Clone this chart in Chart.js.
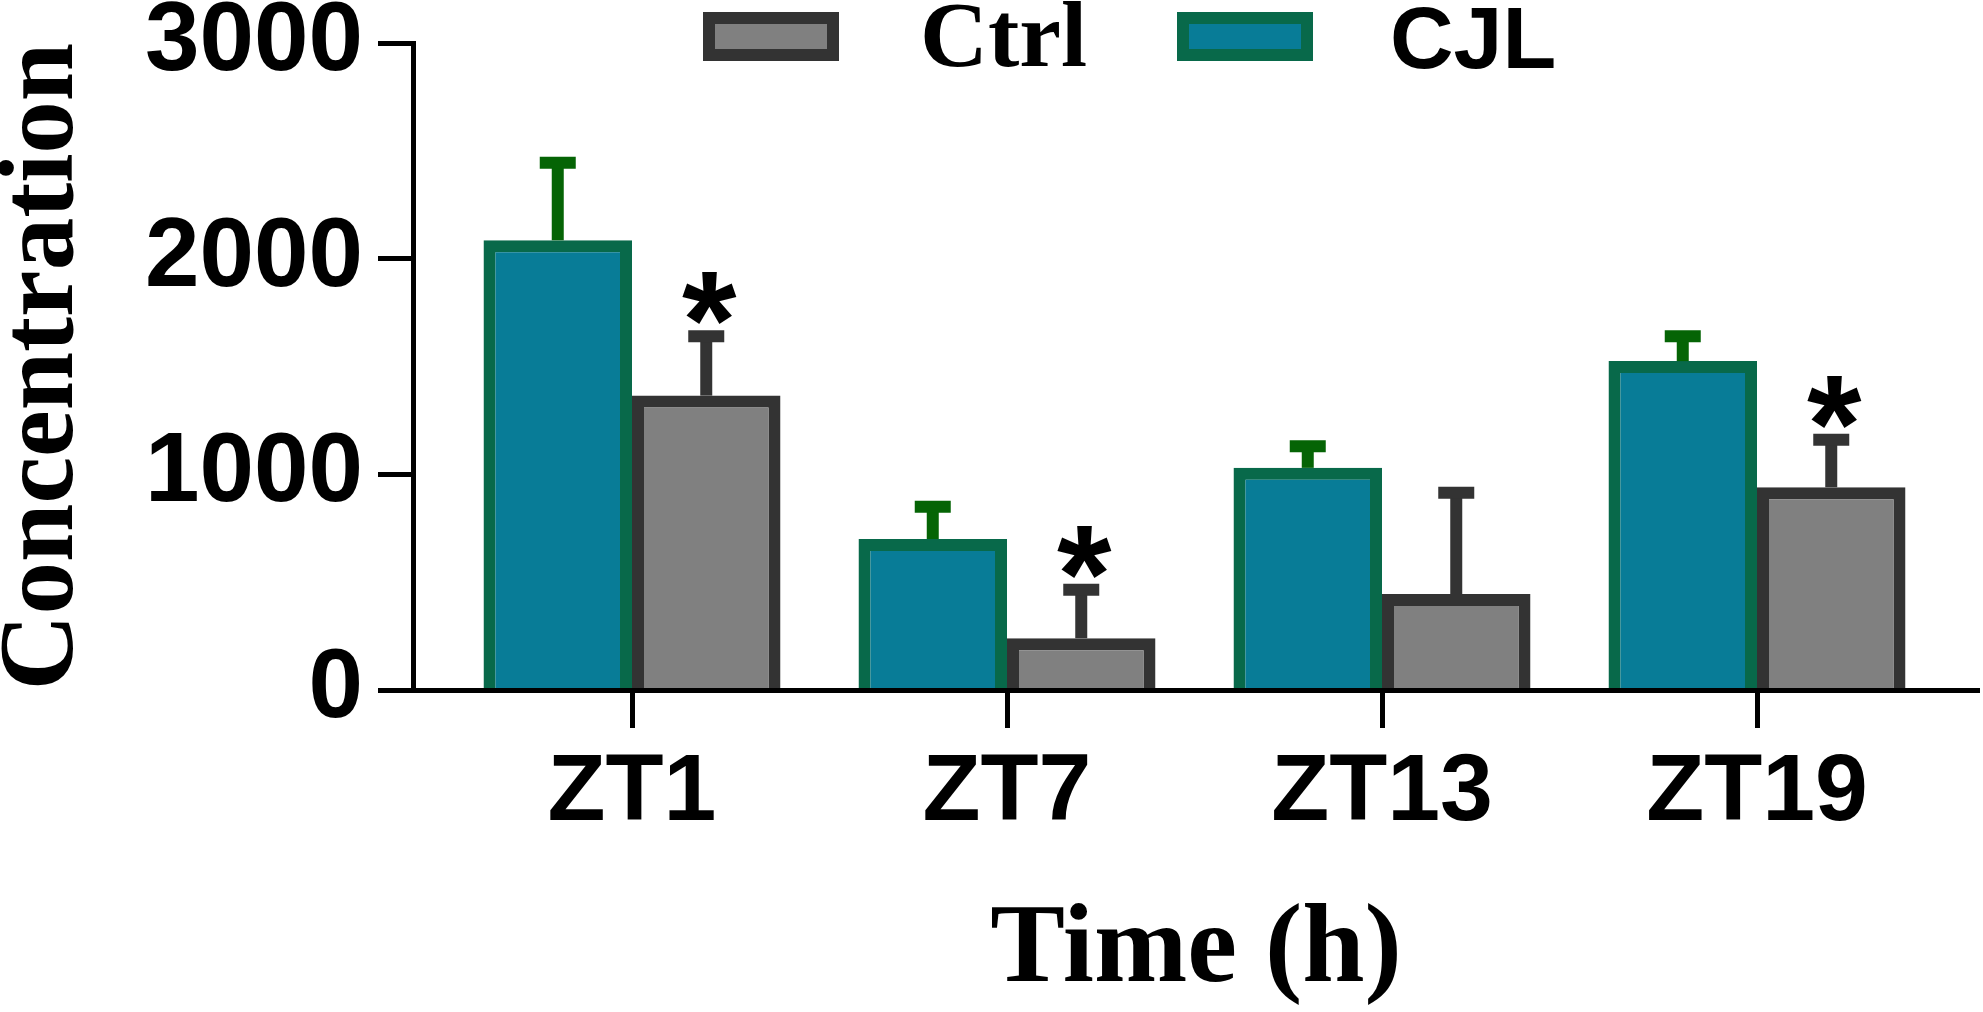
<!DOCTYPE html>
<html>
<head>
<meta charset="utf-8">
<script src="https://cdn.jsdelivr.net/npm/chart.js@4.4.1/dist/chart.umd.min.js"></script>
<style>
	html, body { margin: 0; padding: 0; background: #fff; }
	#wrap { width: 1983px; height: 1012px; }
</style>
</head>
<body>
<div id="wrap"><canvas id="concChart" width="1983" height="1012"></canvas></div>
<script>
// Values
const timeLabels = ['ZT1', 'ZT7', 'ZT13', 'ZT19'];
const cjlMean = [2085, 700, 1030, 1525];
const cjlSD = [360, 150, 100, 115];
const ctrlMean = [1365, 240, 445, 940];
const ctrlSD = [275, 225, 470, 220];
const ctrlSig = [true, true, false, true];
const cjlSig = [false, false, false, false];

// Error bars + significance stars on top of the bars
const errorBarPlugin = {
	id: 'errorBars',
	afterDatasetsDraw(chart) {
		const ctx = chart.ctx;
		const yScale = chart.scales.y;
		chart.data.datasets.forEach((ds, di) => {
			const meta = chart.getDatasetMeta(di);
			meta.data.forEach((bar, i) => {
				const top = yScale.getPixelForValue(ds.data[i] + ds.errors[i]);
				ctx.save();
				ctx.strokeStyle = ds.errorColor;
				ctx.lineWidth = 12;
				ctx.beginPath();
				ctx.moveTo(bar.x, bar.y);
				ctx.lineTo(bar.x, top);
				ctx.stroke();
				ctx.beginPath();
				ctx.moveTo(bar.x - 18, top);
				ctx.lineTo(bar.x + 18, top);
				ctx.stroke();

				if (ds.sig[i]) {
					ctx.font = 'bold 140px "Liberation Sans", Arial, sans-serif';
					ctx.fillStyle = '#000';
					ctx.textAlign = 'center';
					ctx.textBaseline = 'alphabetic';
					const m = ctx.measureText('*');
					const capTop = top - 6;
					ctx.fillText('*', bar.x + 3, capTop - 6 - m.actualBoundingBoxDescent);
				}
				ctx.restore();
			});
		});
	}
};

// Legend drawn at the top, Ctrl first, mixed fonts like the figure
const topLegendPlugin = {
	id: 'topLegend',
	afterDraw(chart, args, opts) {
		const ctx = chart.ctx;
		opts.items.forEach((item) => {
			const ds = chart.data.datasets[item.dataset];
			ctx.save();
			ctx.fillStyle = ds.borderColor;
			ctx.fillRect(item.boxX, opts.boxY, opts.boxW, opts.boxH);
			ctx.fillStyle = ds.backgroundColor;
			ctx.fillRect(item.boxX + opts.border, opts.boxY + opts.border, opts.boxW - 2 * opts.border, opts.boxH - 2 * opts.border);
			ctx.fillStyle = '#000';
			ctx.font = item.font;
			ctx.textAlign = 'left';
			ctx.textBaseline = 'alphabetic';
			ctx.fillText(ds.label, item.textX, item.baseline);
			ctx.restore();
		});
	}
};

new Chart(document.getElementById('concChart'), {
	type: 'bar',
	data: {
		labels: timeLabels,
		datasets: [
			{
				label: 'CJL',
				data: cjlMean,
				errors: cjlSD,
				sig: cjlSig,
				backgroundColor: '#087c97',
				borderColor: '#08694a',
				errorColor: '#056405',
				borderWidth: 12
			},
			{
				label: 'Ctrl',
				data: ctrlMean,
				errors: ctrlSD,
				sig: ctrlSig,
				backgroundColor: '#808080',
				borderColor: '#333333',
				errorColor: '#333333',
				borderWidth: 12
			}
		]
	},
	options: {
		responsive: false,
		devicePixelRatio: 1,
		animation: false,
		barPercentage: 1,
		categoryPercentage: 0.792,
		layout: { padding: { top: 43, right: 4, left: 0, bottom: 0 } },
		plugins: {
			legend: { display: false },
			tooltip: { enabled: false },
			topLegend: {
				boxY: 12,
				boxW: 136,
				boxH: 49,
				border: 12,
				items: [
					{ dataset: 1, boxX: 703, textX: 920, baseline: 66, font: 'bold 94px "Liberation Serif", "Times New Roman", serif' },
					{ dataset: 0, boxX: 1177, textX: 1390, baseline: 68, font: 'bold 88px "Liberation Sans", Arial, sans-serif' }
				]
			}
		},
		scales: {
			x: {
				offset: true,
				afterBuildTicks: (scale) => {
					// figure spaces groups a bit tighter than the default category layout
					scale._startValue = -0.584;
					scale._valueRange = 4.176;
				},
				afterFit: (scale) => { scale.height = 322; },
				grid: { display: true, offset: false, drawOnChartArea: false, drawTicks: true, tickLength: 38, tickWidth: 5, tickColor: '#000' },
				border: { display: true, width: 5, color: '#000', z: 1 },
				ticks: {
					color: '#000',
					padding: 18,
					maxRotation: 0,
					autoSkip: false,
					font: { family: '"Liberation Sans", Arial, sans-serif', size: 95, weight: 'bold', lineHeight: 1 }
				},
				title: {
					display: true,
					text: 'Time (h)',
					color: '#000',
					padding: { top: 0, bottom: 4 },
					font: { family: '"Liberation Serif", "Times New Roman", serif', size: 112, weight: 'bold', lineHeight: 1 }
				}
			},
			y: {
				min: 0,
				max: 3000,
				afterFit: (scale) => { scale.width = 413; },
				grid: { display: true, drawOnChartArea: false, drawTicks: true, tickLength: 35, tickWidth: 5, tickColor: '#000' },
				border: { display: true, width: 5, color: '#000', z: 1 },
				ticks: {
					stepSize: 1000,
					color: '#000',
					padding: 15,
					callback: (value) => String(value),
					font: { family: '"Liberation Sans", Arial, sans-serif', size: 98, weight: 'bold', lineHeight: 0.5 }
				},
				title: {
					display: true,
					text: 'Concentration',
					color: '#000',
					padding: { top: 0, bottom: 0 },
					font: { family: '"Liberation Serif", "Times New Roman", serif', size: 105, weight: 'bold', lineHeight: 0.85 }
				}
			}
		}
	},
	plugins: [errorBarPlugin, topLegendPlugin]
});
</script>
</body>
</html>
